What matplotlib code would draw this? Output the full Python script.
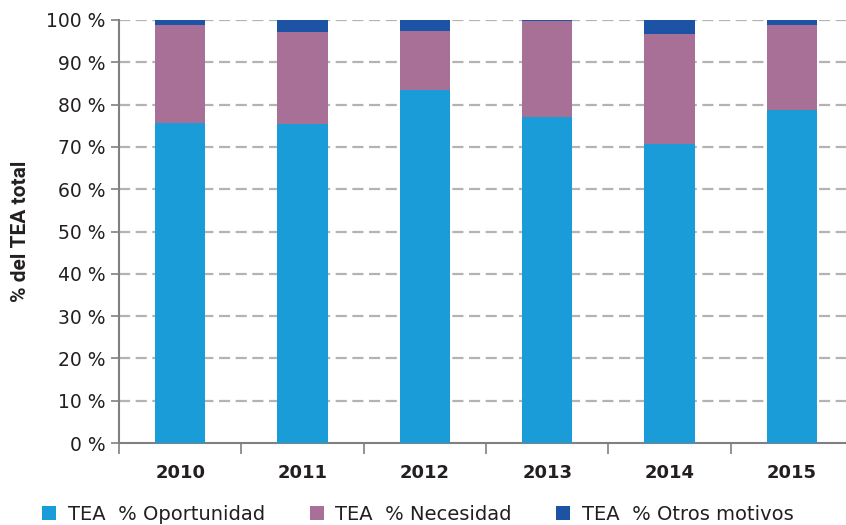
import numpy as np
import matplotlib.pyplot as plt

# Datos (% del TEA total)
years = ['2010', '2011', '2012', '2013', '2014', '2015']
oportunidad = [75.7, 75.4, 83.5, 77.0, 70.7, 78.7]
necesidad = [23.0, 21.8, 13.9, 22.8, 26.0, 20.1]
otros = [1.3, 2.8, 2.6, 0.2, 3.3, 1.2]
series_labels = ['TEA  % Oportunidad', 'TEA  % Necesidad', 'TEA  % Otros motivos']
colors = ['#1a9cd8', '#a87096', '#1c53a5']

plt.rcParams['font.family'] = ['DejaVu Sans']

fig = plt.figure(figsize=(8.46, 5.25), dpi=100)
ax = fig.add_axes([0.1407, 0.156, 0.8676, 0.806])

x = np.arange(len(years))
w = 0.41
op = np.array(oportunidad)
ne = np.array(necesidad)
ot = np.array(otros)
ax.bar(x, op, w, color=colors[0], label=series_labels[0], zorder=3)
ax.bar(x, ne, w, bottom=op, color=colors[1], label=series_labels[1], zorder=3)
ax.bar(x, ot, w, bottom=op + ne, color=colors[2], label=series_labels[2], zorder=3)

ax.set_xlim(-0.5, 5.5)
ax.set_ylim(0, 100)
yt = np.arange(0, 101, 10)
ax.set_yticks(yt)
ax.set_yticklabels([f'{v} %' for v in yt], fontsize=13.5, color='#231f20')
for v in yt[1:]:
    ax.axhline(v, color='#b3b3b3', lw=1.6, ls=(0, (5, 2.5)), zorder=1)

ax.set_xticks(x)
ax.set_xticklabels(years, fontsize=13, fontweight='bold', color='#231f20')
ax.set_xticks(np.arange(-0.5, 6, 1), minor=True)
ax.tick_params(axis='x', which='major', length=0, pad=15)
ax.tick_params(axis='x', which='minor', length=8, color='#808080', width=1.2)
ax.tick_params(axis='y', length=6, color='#808080', width=1.2, pad=4)

for s in ['top', 'right']:
    ax.spines[s].set_visible(False)
for s in ['left', 'bottom']:
    ax.spines[s].set_color('#808080')
    ax.spines[s].set_linewidth(1.5)

ax.set_ylabel('% del TEA total', fontsize=15, fontweight='bold', color='#231f20',
              family='Roboto', labelpad=11)

fig.legend(loc='center left', bbox_to_anchor=(42 / 846, 10.5 / 525), ncol=3, frameon=False,
           fontsize=14, handlelength=0.72, handleheight=0.72, handletextpad=0.6,
           columnspacing=2.3, borderpad=0, borderaxespad=0, labelcolor='#231f20')

fig.savefig('out.png', dpi=100)
